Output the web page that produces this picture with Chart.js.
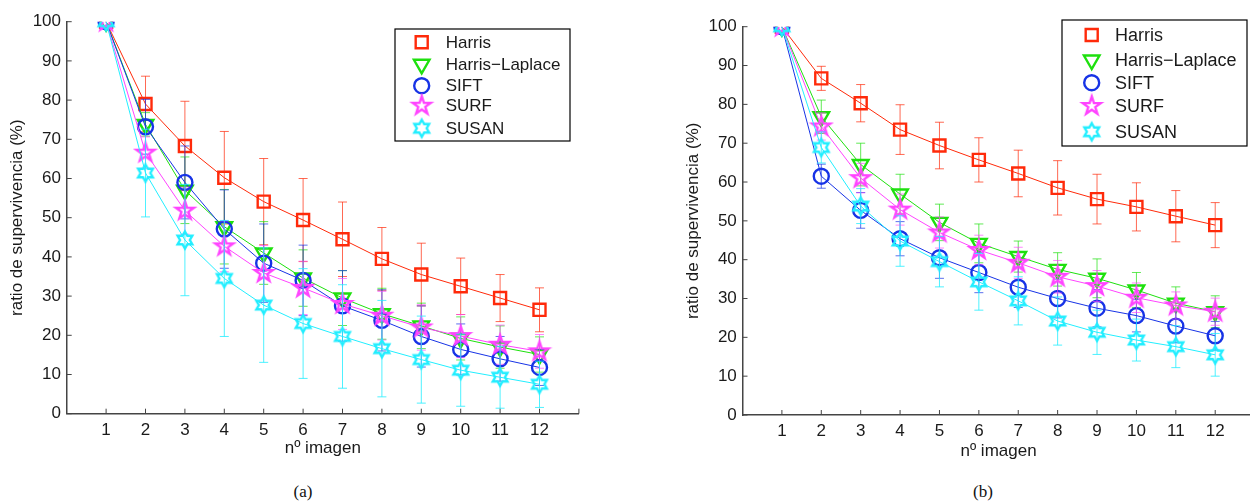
<!DOCTYPE html>
<html>
<head>
<meta charset="utf-8">
<script src="https://cdn.jsdelivr.net/npm/chart.js@4.4.1/dist/chart.umd.min.js"></script>
<style>
html, body { margin: 0; padding: 0; background: #fff; overflow: hidden; width: 1250px; height: 501px; }
canvas { position: absolute; top: 0; }
#chartA { left: 0; }
#chartB { left: 676px; }
.caption { position: absolute; top: 492px; font-family: 'Liberation Serif', serif; font-size: 17px; color: #111; transform: translate(-50%, -50%); }
</style>
</head>
<body>
<canvas id="chartA" width="600" height="470"></canvas>
<canvas id="chartB" width="590" height="470"></canvas>
<div class="caption" style="left:303px">(a)</div>
<div class="caption" style="left:983px">(b)</div>
<script>
const imagenes = [1, 2, 3, 4, 5, 6, 7, 8, 9, 10, 11, 12];
const yTicks = [0, 10, 20, 30, 40, 50, 60, 70, 80, 90, 100];
const seriesNames = ['Harris', 'Harris\u2212Laplace', 'SIFT', 'SURF', 'SUSAN'];

// (a)
const harrisA = [100, 79, 68.3, 60.2, 54.1, 49.4, 44.5, 39.5, 35.5, 32.5, 29.5, 26.5];
const harrisErrA = [0, 7.1, 11.4, 11.8, 11, 10.6, 9.5, 8, 8, 7.2, 6, 5.6];
const hlA = [100, 73.8, 57, 47.7, 41, 34.6, 29.5, 25.5, 22.4, 19.2, 17, 15.1];
const hlErrA = [0, 3, 8.5, 9.5, 8, 7.2, 7, 6.5, 5.8, 5.5, 5.4, 4.5];
const siftA = [100, 73.2, 59, 47.1, 38.4, 34, 27.5, 23.8, 19.7, 16.4, 14, 11.8];
const siftErrA = [0, 7, 9.3, 10, 10, 9, 9, 7.8, 7.8, 6.5, 5.7, 4.6];
const surfA = [100, 66.6, 51.8, 42.7, 35.9, 32.1, 28, 25, 22, 19.8, 17.6, 15.9];
const surfErrA = [0, 4, 6, 6.5, 7, 6.8, 6.5, 6.2, 5.8, 5.5, 5, 4.3];
const susanA = [100, 61.4, 44.3, 34.5, 27.7, 23, 19.7, 16.6, 13.8, 11.1, 9.3, 7.5];
const susanErrA = [0, 11.2, 14.2, 14.8, 14.6, 14, 13.2, 12.3, 11.1, 9.2, 7.9, 5.9];

// (b)
const harrisB = [100, 86.7, 80.3, 73.5, 69.4, 65.7, 62.2, 58.5, 55.6, 53.6, 51.2, 48.9];
const harrisErrB = [0, 3.1, 4.8, 6.4, 6, 5.7, 6, 7, 6.4, 6.2, 6.6, 5.8];
const hlB = [100, 76.8, 64.5, 56.9, 49.6, 44.2, 40.8, 37.5, 35.2, 32.2, 28.8, 26.6];
const hlErrB = [0, 4.3, 5.5, 5.1, 4.7, 5, 4, 4.3, 5, 4.5, 4.2, 4.1];
const siftB = [100, 61.5, 52.7, 45.4, 40.5, 36.7, 32.9, 30, 27.5, 25.6, 22.9, 20.4];
const siftErrB = [0, 3.1, 4.6, 4.4, 5.3, 5.2, 5.2, 5, 4.8, 4.2, 4.3, 3.7];
const surfB = [100, 74.3, 61, 52.9, 47, 42.5, 39.2, 35.6, 33.2, 30.2, 28.2, 26.6];
const surfErrB = [0, 3.5, 3.8, 4, 4, 3.8, 4, 4.2, 4, 3.8, 3.5, 3.5];
const susanB = [100, 68.9, 53.8, 44.8, 39.5, 34.3, 29.4, 24.2, 21.3, 19.3, 17.6, 15.5];
const susanErrB = [0, 4, 4.5, 6.5, 6.5, 7.3, 6.2, 6.2, 5.7, 5.4, 5.4, 5.5];

const seriesColors = ['#ff2a0a', '#1ee00e', '#1733e6', '#ff44ff', '#22eeff'];
const errColors = ['rgba(255,42,10,0.7)', 'rgba(30,224,14,0.7)', 'rgba(23,51,230,0.7)', 'rgba(255,68,255,0.65)', 'rgba(34,238,255,0.8)'];
const axisColor = '#444';
const textColor = '#1a1a1a';

// pentagram / hexagram markers drawn once on small canvases
function starCanvas(points, outer, inner, color) {
    const c = document.createElement('canvas');
    c.width = 26;
    c.height = 26;
    const ctx = c.getContext('2d');
    ctx.strokeStyle = color;
    ctx.lineWidth = 2.4;
    ctx.beginPath();
    for (let i = 0; i < points * 2; i++) {
        const r = i % 2 === 0 ? outer : inner;
        const a = -Math.PI / 2 + i * Math.PI / points;
        const px = 13 + r * Math.cos(a), py = 13 + r * Math.sin(a);
        if (i === 0) ctx.moveTo(px, py); else ctx.lineTo(px, py);
    }
    ctx.closePath();
    ctx.stroke();
    return c;
}

const markers = [
    { pointStyle: 'rect', radius: 8.5, rotation: 0 },
    { pointStyle: 'triangle', radius: 9, rotation: 180 },
    { pointStyle: 'circle', radius: 7.5, rotation: 0 },
    { pointStyle: starCanvas(5, 9.5, 3.7, seriesColors[3]), radius: 9, rotation: 0 },
    { pointStyle: starCanvas(6, 8.5, 4.9, seriesColors[4]), radius: 8, rotation: 0 }
];

function makeDatasets(values, errors) {
    return values.map(function(vals, k) {
        return {
            label: seriesNames[k],
            data: vals.map((v, i) => ({ x: imagenes[i], y: v })),
            errors: errors[k],
            borderColor: seriesColors[k],
            borderWidth: 1,
            pointStyle: markers[k].pointStyle,
            pointRadius: markers[k].radius,
            pointRotation: markers[k].rotation,
            pointBorderColor: seriesColors[k],
            pointBackgroundColor: 'rgba(0,0,0,0)',
            pointBorderWidth: 2.4,
            tension: 0,
            fill: false,
            order: 5 - k
        };
    });
}

const errorBars = {
    id: 'errorBars',
    beforeDatasetDraw(chart, args) {
        const ds = chart.data.datasets[args.index];
        const xs = chart.scales.x, ys = chart.scales.y;
        const ctx = chart.ctx;
        ctx.save();
        ctx.strokeStyle = errColors[args.index];
        ctx.lineWidth = 1;
        ds.data.forEach(function(p, i) {
            const e = ds.errors[i];
            if (!e) return;
            const x = xs.getPixelForValue(p.x);
            const y1 = ys.getPixelForValue(p.y + e);
            const y2 = ys.getPixelForValue(p.y - e);
            ctx.beginPath();
            ctx.moveTo(x, y1); ctx.lineTo(x, y2);
            ctx.moveTo(x - 4.5, y1); ctx.lineTo(x + 4.5, y1);
            ctx.moveTo(x - 4.5, y2); ctx.lineTo(x + 4.5, y2);
            ctx.stroke();
        });
        ctx.restore();
    }
};

// inward ticks (matlab style) and the boxed legend
const axisExtras = {
    id: 'axisExtras',
    afterDraw(chart, args, opts) {
        const ctx = chart.ctx, xs = chart.scales.x, ys = chart.scales.y;
        ctx.save();
        ctx.strokeStyle = axisColor;
        ctx.lineWidth = 1;
        ctx.beginPath();
        imagenes.concat([13]).forEach(function(v) {
            const x = xs.getPixelForValue(v);
            ctx.moveTo(x, ys.bottom);
            ctx.lineTo(x, ys.bottom - 5);
        });
        yTicks.forEach(function(v) {
            const y = ys.getPixelForValue(v);
            ctx.moveTo(xs.left, y);
            ctx.lineTo(xs.left + 5, y);
        });
        ctx.stroke();

        const lg = opts.legend;
        ctx.fillStyle = '#fff';
        ctx.fillRect(lg.x, lg.y, lg.w, lg.h);
        ctx.strokeStyle = '#000';
        ctx.lineWidth = 1.2;
        ctx.strokeRect(lg.x, lg.y, lg.w, lg.h);
        ctx.font = lg.fontSize + 'px "Liberation Sans", Arial, sans-serif';
        ctx.textBaseline = 'middle';
        ctx.textAlign = 'left';
        seriesNames.forEach(function(name, k) {
            const ry = lg.rows[k];
            ctx.strokeStyle = seriesColors[k];
            ctx.fillStyle = 'rgba(0,0,0,0)';
            ctx.lineWidth = 2.4;
            Chart.helpers.drawPoint(ctx, {
                pointStyle: markers[k].pointStyle,
                radius: markers[k].radius,
                rotation: markers[k].rotation,
                borderWidth: 2.4
            }, lg.markerX, ry);
            ctx.fillStyle = textColor;
            ctx.fillText(name, lg.textX, ry + 1);
        });
        ctx.restore();
    }
};

function makeChart(id, values, errors, lay) {
    const font = { family: '"Liberation Sans", Arial, sans-serif', size: 17 };
    return new Chart(document.getElementById(id), {
        type: 'line',
        data: { datasets: makeDatasets(values, errors) },
        options: {
            responsive: false,
            animation: false,
            devicePixelRatio: 1,
            events: [],
            layout: { padding: { top: lay.top, right: lay.right, left: 0, bottom: 0 } },
            plugins: {
                legend: { display: false },
                tooltip: { enabled: false },
                axisExtras: { legend: lay.legend }
            },
            scales: {
                x: {
                    type: 'linear',
                    min: 0,
                    max: 13,
                    afterFit(s) { s.height = lay.xHeight; },
                    grid: { display: false, drawTicks: false },
                    border: { display: true, color: axisColor, width: 1.5 },
                    ticks: {
                        stepSize: 1,
                        autoSkip: false,
                        maxRotation: 0,
                        padding: 6.6,
                        color: textColor,
                        font: font,
                        callback: v => imagenes.includes(v) ? String(v) : ''
                    },
                    title: { display: true, text: 'n\u00ba imagen', color: textColor, font: font, padding: { top: 0, bottom: lay.xTitlePad } }
                },
                y: {
                    min: 0,
                    max: 100,
                    afterFit(s) { s.width = lay.yWidth; },
                    grid: { display: false, drawTicks: false },
                    border: { display: true, color: axisColor, width: 1.5 },
                    ticks: { stepSize: 10, padding: 5.7, color: textColor, font: font },
                    title: { display: true, text: 'ratio de supervivencia (%)', color: textColor, font: font, padding: { top: 6.8, bottom: 0 } }
                }
            }
        },
        plugins: [errorBars, axisExtras]
    });
}

makeChart('chartA',
    [harrisA, hlA, siftA, surfA, susanA],
    [harrisErrA, hlErrA, siftErrA, surfErrA, susanErrA],
    {
        top: 21.7, right: 21.1, yWidth: 66.7, xHeight: 56.3, xTitlePad: 11.5,
        legend: { x: 395, y: 29, w: 175, h: 112, markerX: 421.7, textX: 445.7, rows: [42.3, 64.3, 85.7, 105.7, 128.3], fontSize: 17 }
    });

makeChart('chartB',
    [harrisB, hlB, siftB, surfB, susanB],
    [harrisErrB, hlErrB, siftErrB, surfErrB, susanErrB],
    {
        top: 26.7, right: 10, yWidth: 66.5, xHeight: 55, xTitlePad: 8.1,
        legend: { x: 386, y: 20, w: 185, h: 126, markerX: 415.7, textX: 439, rows: [35, 60, 82.7, 106, 131.7], fontSize: 18 }
    });
</script>
</body>
</html>
